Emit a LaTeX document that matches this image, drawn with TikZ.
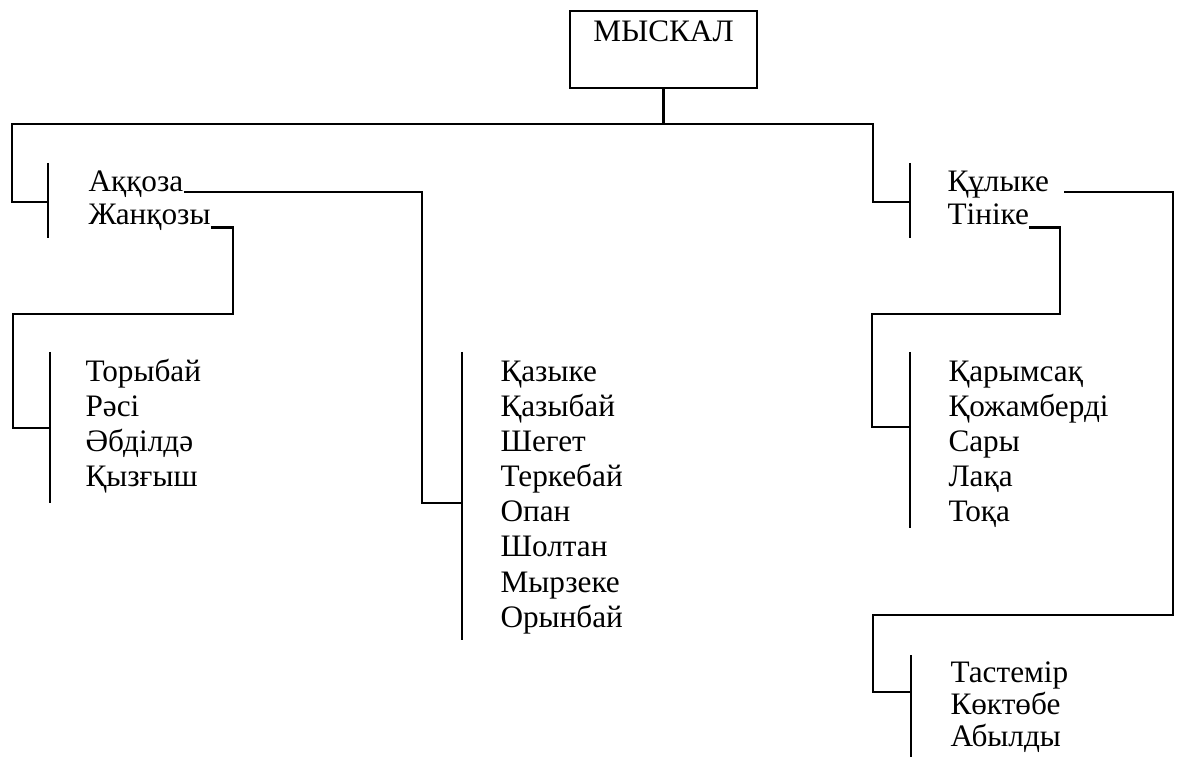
\documentclass[tikz,border=0pt]{standalone}
\usepackage{fontspec}
\setmainfont{Liberation Serif}
\tikzset{
  kin/.style={anchor=base west, inner sep=0pt, font=\fontsize{12.5}{14}\selectfont},
  rootbox/.style={draw, line width=0.9pt, anchor=north, minimum width=74.8pt,
    text height=8.3pt, text depth=15.1pt, inner xsep=2pt, inner ysep=3.7pt,
    font=\fontsize{12.5}{14}\selectfont},
  link/.style={line width=0.9pt},
  bracket/.style={line width=0.9pt},
}

\begin{document}
\begin{tikzpicture}[x=0.4pt, y=-0.4pt]
  \useasboundingbox (0,0) rectangle (1178,757);

  % ---- root
  \node[rootbox] (root) at (663.5,10) {МЫСКАЛ};

  % ---- first generation
  \node[kin] (akkoza)   at (88,192)  {Аққоза};
  \node[kin] (zhankozy) at (88,225)  {Жанқозы};
  \node[kin] (kulyke)   at (947,192) {Құлыке};
  \node[kin] (tinike)   at (947,225) {Тініке};

  % ---- second generation: one \foreach per list
  \foreach \n [count=\i] in {Торыбай, Рәсі, Әбділдә, Қызғыш}
    \node[kin] (T\i) at (85, {382 + 35*(\i-1)}) {\n};
  \foreach \n [count=\i] in {Қазыке, Қазыбай, Шегет, Теркебай, Опан, Шолтан, Мырзеке, Орынбай}
    \node[kin] (K\i) at (500, {382 + 35*(\i-1)}) {\n};
  \foreach \n [count=\i] in {Қарымсақ, Қожамберді, Сары, Лақа, Тоқа}
    \node[kin] (Q\i) at (948, {382 + 35*(\i-1)}) {\n};
  \foreach \n [count=\i] in {Тастемір, Көктөбе, Абылды}
    \node[kin] (D\i) at (950, {682 + 32*(\i-1)}) {\n};

  % ---- junctions on the brackets
  \coordinate (jL) at (48,202);
  \coordinate (jR) at (910,202);
  \coordinate (jT) at (50,428);
  \coordinate (jK) at (462,503);
  \coordinate (jQ) at (910,427);
  \coordinate (jD) at (911,692);

  % ---- brackets
  \draw[bracket] (jL |- 0,163) -- (jL |- 0,238);
  \draw[bracket] (jR |- 0,163) -- (jR |- 0,238);
  \draw[bracket] (jT |- 0,352) -- (jT |- 0,503);
  \draw[bracket] (jK |- 0,352) -- (jK |- 0,640);
  \draw[bracket] (jQ |- 0,352) -- (jQ |- 0,528);
  \draw[bracket] (jD |- 0,655) -- (jD |- 0,757);

  % ---- links
  \draw[link] (root.south) |- (12,124) |- (jL);
  \draw[link] (root.south) |- (873,124) |- (jR);
  \draw[link] (akkoza.base east) -| (422,503) -- (jK);
  \draw[link] ([yshift=-1pt]zhankozy.base east) -| (233,314) -| (13,428) -- (jT);
  \draw[link] ([xshift=6pt]kulyke.base east) -| (1173,615) -| (873,692) -- (jD);
  \draw[link] ([yshift=-1pt]tinike.base east) -| (1060,314) -| (872,427) -- (jQ);

\end{tikzpicture}
\end{document}
